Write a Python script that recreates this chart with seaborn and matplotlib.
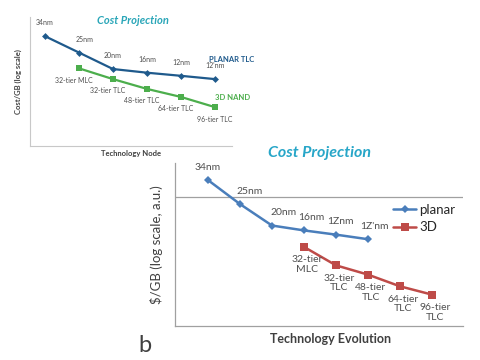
import pandas as pd
import matplotlib.pyplot as plt
import seaborn as sns
import numpy as np

# top panel (a)
top_planar_step = [0, 1, 2, 3, 4, 5]
top_planar_cost = [7.1, 5.3, 3.95, 3.7, 3.5, 3.3]
top_planar_lbl = ["34nm", "25nm", "20nm", "16nm", "12nm", "12'nm"]
top_nand_step = [1, 2, 3, 4, 5]
top_nand_cost = [4.0, 3.3, 2.77, 2.4, 2.0]
top_nand_lbl = ["32-tier MLC", "32-tier TLC", "48-tier TLC", "64-tier TLC", "96-tier TLC"]

# bottom panel (b)
bot_planar_step = [0, 1, 2, 3, 4, 5]
bot_planar_cost = [13.5, 8.8, 6.0, 5.5, 5.1, 4.7]
bot_planar_lbl = ["34nm", "25nm", "20nm", "16nm", "1Znm", "1Z'nm"]
bot_nand_step = [3, 4, 5, 6, 7]
bot_nand_cost = [4.1, 2.95, 2.5, 2.03, 1.75]
bot_nand_lbl = ["32-tier\nMLC", "32-tier\nTLC", "48-tier\nTLC", "64-tier\nTLC", "96-tier\nTLC"]

sns.set_style("white")
plt.rcParams['font.family'] = ['Lato', 'DejaVu Sans']

fig = plt.figure(figsize=(4.8, 3.6), dpi=100)

# ---------- top panel ----------
ax1 = fig.add_axes([30/480, 1 - 146/360, 202/480, 129/360])
top_p = pd.DataFrame({"step": top_planar_step, "cost": top_planar_cost})
top_n = pd.DataFrame({"step": top_nand_step, "cost": top_nand_cost})
sns.lineplot(data=top_p, x="step", y="cost", ax=ax1, color="#1f5a8c", lw=1.6,
             marker="D", markersize=3.5, markeredgewidth=0)
sns.lineplot(data=top_n, x="step", y="cost", ax=ax1, color="#4cae4c", lw=1.6,
             marker="s", markersize=5, markeredgewidth=0)
ax1.set_yscale("log")
ax1.set_ylim(1, 10)
ax1.set_xlim(-0.44, 5.5)
ax1.set_xticks([])
ax1.set_yticks([])
ax1.minorticks_off()
for s in ["top", "right"]:
    ax1.spines[s].set_visible(False)
for s in ["left", "bottom"]:
    ax1.spines[s].set_color("#c8c8c8")
    ax1.spines[s].set_linewidth(0.8)
ax1.set_xlabel("Technology Node", fontsize=5.5, fontweight="bold", color="#404040", labelpad=3)
ax1.set_ylabel("Cost/GB (log scale)", fontsize=5.5, fontweight="bold", color="#404040", labelpad=6)
ax1.set_title("Cost Projection", fontsize=8, fontweight="bold", style="italic",
              color="#2aa6b8", x=0.51, y=0.88)
for x, y, t in zip(top_planar_step, top_planar_cost, top_planar_lbl):
    ax1.annotate(t, (x, y), xytext=(0 if x != 1 else 4, 7), textcoords="offset points",
                 ha="center", va="bottom", fontsize=5, color="#505050")
for x, y, t in zip(top_nand_step, top_nand_cost, top_nand_lbl):
    ax1.annotate(t, (x, y), xytext=(-4 if x < 5 else 0, -6), textcoords="offset points",
                 ha="center", va="top", fontsize=5, color="#505050")
ax1.text(4.82, 4.7, "PLANAR TLC", fontsize=5.5, fontweight="bold", color="#1f5a8c",
         ha="left", va="center", clip_on=False)
ax1.text(5.0, 2.36, "3D NAND", fontsize=5.5, fontweight="bold", color="#4cae4c",
         ha="left", va="center", clip_on=False)

# ---------- bottom panel ----------
ax2 = fig.add_axes([175/480, 1 - 326/360, 288/480, 163/360])
bot_p = pd.DataFrame({"step": bot_planar_step, "cost": bot_planar_cost})
bot_n = pd.DataFrame({"step": bot_nand_step, "cost": bot_nand_cost})
sns.lineplot(data=bot_p, x="step", y="cost", ax=ax2, color="#4a7ebb", lw=1.8,
             marker="D", markersize=4.5, markeredgewidth=0, label="planar")
sns.lineplot(data=bot_n, x="step", y="cost", ax=ax2, color="#be4b48", lw=1.8,
             marker="s", markersize=5.5, markeredgewidth=0, label="3D")
ax2.set_yscale("log")
ax2.set_ylim(1, 18.3)
ax2.set_xlim(-1.03, 7.97)
ax2.set_xticks([])
ax2.set_yticks([10])
ax2.set_yticks([2, 3, 4, 5, 6, 7, 8, 9], minor=True)
ax2.set_yticklabels([])
ax2.yaxis.set_minor_formatter(plt.NullFormatter())
ax2.tick_params(axis="y", which="both", direction="in", length=2, color="#909090", width=0.6)
ax2.axhline(10, color="#a0a0a0", lw=0.9, zorder=0)
for s in ["top", "right"]:
    ax2.spines[s].set_visible(False)
for s in ["left", "bottom"]:
    ax2.spines[s].set_color("#a0a0a0")
    ax2.spines[s].set_linewidth(0.9)
ax2.set_xlabel("Technology Evolution", fontsize=9, fontweight="bold", color="#404040")
ax2.xaxis.set_label_coords(0.54, -0.045, transform=ax2.transAxes)
ax2.xaxis.label.set_va("top")
ax2.set_ylabel("$/GB (log scale, a.u.)", fontsize=9.5, color="#404040", labelpad=5)
ax2.text(0.5, 1.02, "Cost Projection", transform=ax2.transAxes, fontsize=11.5,
         fontweight="bold", style="italic", color="#27a6c8", ha="center", va="bottom")
for x, y, t in zip(bot_planar_step, bot_planar_cost, bot_planar_lbl):
    dx = {0: 0, 1: 7, 2: 8, 3: 5, 4: 3, 5: 5}[x]
    ax2.annotate(t, (x, y), xytext=(dx, 6), textcoords="offset points",
                 ha="center", va="bottom", fontsize=7.5, color="#505050")
for x, y, t in zip(bot_nand_step, bot_nand_cost, bot_nand_lbl):
    ax2.annotate(t, (x, y), xytext=(2, -6), textcoords="offset points",
                 ha="center", va="top", fontsize=7.5, color="#505050", linespacing=1.1)
ax2.legend(loc="upper right", bbox_to_anchor=(1.0, 0.8), frameon=False, fontsize=9.5,
           handlelength=1.8, handletextpad=0.2, labelspacing=0.45, borderaxespad=0.2)

fig.text(145/480, 1 - 345/360, "b", fontsize=17, color="#404040", ha="center", va="center")

plt.savefig("out.png", dpi=100)
